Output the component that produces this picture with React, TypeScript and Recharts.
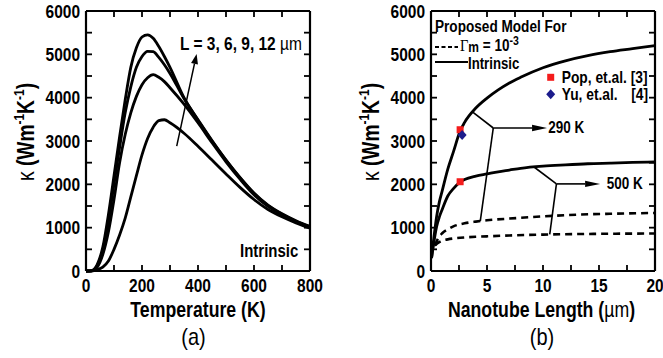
import React from 'react'
import { ComposedChart, Line, Scatter, XAxis, YAxis, ReferenceLine } from 'recharts'

// ---- panel (a): kappa vs temperature, intrinsic, L = 3, 6, 9, 12 um
const temps = [0, 20, 40, 60, 80, 100, 120, 140, 160, 180, 200, 220, 240, 260, 280, 300, 350, 400, 450, 500, 550, 600, 650, 700, 750, 800]
const kL12 = [0, 10, 150, 550, 1300, 2200, 3100, 3950, 4700, 5150, 5400, 5450, 5370, 5180, 4950, 4700, 4000, 3480, 3000, 2560, 2160, 1800, 1520, 1320, 1160, 1030]
const kL9 = [0, 5, 120, 480, 1150, 2000, 2850, 3650, 4250, 4700, 4950, 5070, 5060, 4930, 4760, 4560, 3980, 3490, 3010, 2560, 2150, 1790, 1510, 1310, 1150, 1020]
const kL6 = [0, 5, 90, 380, 900, 1650, 2500, 3150, 3650, 4030, 4300, 4460, 4530, 4470, 4370, 4230, 3850, 3420, 2960, 2520, 2120, 1760, 1490, 1295, 1140, 1000]
const kL3 = [0, 0, 30, 90, 230, 500, 830, 1220, 1710, 2200, 2680, 3060, 3320, 3470, 3490, 3420, 3180, 2880, 2560, 2240, 1930, 1650, 1420, 1250, 1110, 990]
const tempTicks = [0, 100, 200, 300, 400, 500, 600, 700, 800]
const tempLabels = [0, 200, 400, 600, 800]
const arrowA = [{ x: 324, y: 2880 }, { x: 395, y: 5010 }]

// ---- panel (b): kappa vs nanotube length
const lenIntr = [0.05, 0.25, 0.5, 0.75, 1, 1.5, 2, 2.6, 3, 4, 5, 6, 7, 8, 10, 12, 14, 16, 18, 20]
const k290Intr = [300, 750, 1250, 1600, 1850, 2350, 2750, 3230, 3430, 3760, 3990, 4180, 4340, 4470, 4690, 4850, 4970, 5060, 5130, 5200]
const k500Intr = [300, 650, 1020, 1250, 1420, 1730, 1900, 2050, 2110, 2190, 2240, 2290, 2330, 2370, 2420, 2450, 2475, 2490, 2505, 2515]
const lenGm = [0.35, 0.7, 1, 1.5, 2, 3, 4, 5, 7, 10, 13, 16, 20]
const k290Gm = [590, 780, 870, 960, 1030, 1100, 1140, 1170, 1210, 1260, 1300, 1320, 1340]
const k500Gm = [590, 660, 700, 730, 750, 775, 790, 800, 820, 840, 852, 860, 865]
const popPts = [{ x: 2.6, y: 3260 }, { x: 2.6, y: 2060 }]
const yuPts = [{ x: 2.78, y: 3140 }]
const lenTicks = [0, 2.5, 5, 7.5, 10, 12.5, 15, 17.5, 20]
const lenLabels = [0, 5, 10, 15, 20]
const ann290 = [
  [{ x: 3.7, y: 3670 }, { x: 5.56, y: 3300 }],
  [{ x: 5.56, y: 3300 }, { x: 10.36, y: 3300 }],
  [{ x: 5.56, y: 3300 }, { x: 4.4, y: 1150 }]
]
const ann500 = [
  [{ x: 9.2, y: 2400 }, { x: 11.2, y: 2010 }],
  [{ x: 11.2, y: 2010 }, { x: 15.1, y: 2010 }],
  [{ x: 11.2, y: 2010 }, { x: 10.6, y: 845 }]
]

const kTicks = [0, 500, 1000, 1500, 2000, 2500, 3000, 3500, 4000, 4500, 5000, 5500, 6000]
const kLabels = [0, 1000, 2000, 3000, 4000, 5000, 6000]

const toPts = (xs: number[], ys: number[]) => xs.map((x, i) => ({ x, y: ys[i] }))

const FONT = '"Liberation Sans", Arial, sans-serif'
const SY = 1.2 // the original figure is stretched vertically
const PLOT_TOP = 11
const PLOT_BOTTOM = 271
const TICK = 6

function SText({ x, y, size, anchor = 'start', weight = 'bold', children }: any) {
  return (
    <text
      transform={`translate(${x},${y}) scale(1,${SY})`}
      fontSize={size}
      fontFamily={FONT}
      fontWeight={weight}
      textAnchor={anchor}
      fill="#000"
    >
      {children}
    </text>
  )
}

const bottomTick = (labels: number[]) => (props: any) => {
  const { x, payload } = props
  if (!labels.includes(payload.value)) return <g />
  return <SText x={x} y={PLOT_BOTTOM + 21} size={15.5} anchor="middle">{payload.value}</SText>
}

const leftTick = (plotLeft: number) => (props: any) => {
  const { y, payload } = props
  if (!kLabels.includes(payload.value)) return <g />
  return <SText x={plotLeft - 6} y={y + 6.6} size={15.5} anchor="end">{payload.value}</SText>
}

// inward frame ticks, drawn as scatter marks sitting on the four edges of the plot
const stub = (dx: number, dy: number) => (p: any) => (
  <line x1={p.cx} y1={p.cy} x2={p.cx + dx} y2={p.cy + dy} stroke="#000" strokeWidth={1.8} />
)

function FrameTicks(xTicks: number[], yTicks: number[]) {
  const xs = xTicks.slice(1, -1)
  const ys = yTicks.slice(1, -1)
  const x0 = xTicks[0], x1 = xTicks[xTicks.length - 1]
  const y0 = yTicks[0], y1 = yTicks[yTicks.length - 1]
  return [
    <Scatter key="tb" data={xs.map((v) => ({ x: v, y: y0 }))} dataKey="y" shape={stub(0, -TICK)} isAnimationActive={false} />,
    <Scatter key="tt" data={xs.map((v) => ({ x: v, y: y1 }))} dataKey="y" shape={stub(0, TICK)} isAnimationActive={false} />,
    <Scatter key="tl" data={ys.map((v) => ({ x: x0, y: v }))} dataKey="y" shape={stub(TICK, 0)} isAnimationActive={false} />,
    <Scatter key="tr" data={ys.map((v) => ({ x: x1, y: v }))} dataKey="y" shape={stub(-TICK, 0)} isAnimationActive={false} />
  ]
}

const arrowShape = (head: boolean, hl: number, hw: number, sw: number) => (p: any) => {
  const x1 = Number(p.x1), y1 = Number(p.y1), x2 = Number(p.x2), y2 = Number(p.y2)
  const len = Math.hypot(x2 - x1, y2 - y1) || 1
  const ux = (x2 - x1) / len, uy = (y2 - y1) / len
  const bx = x2 - ux * hl, by = y2 - uy * hl
  return (
    <g>
      <line x1={x1} y1={y1} x2={head ? bx : x2} y2={head ? by : y2} stroke="#000" strokeWidth={sw} />
      {head && (
        <polygon
          points={`${x2},${y2} ${bx - uy * hw},${by + ux * hw} ${bx + uy * hw},${by - ux * hw}`}
          fill="#000"
        />
      )}
    </g>
  )
}

const squareShape = (p: any) => <rect x={p.cx - 3.5} y={p.cy - 3.5} width={7} height={7} fill="#f41c1c" />
const diamondShape = (p: any) => (
  <polygon points={`${p.cx},${p.cy - 5} ${p.cx + 4.5},${p.cy} ${p.cx},${p.cy + 5} ${p.cx - 4.5},${p.cy}`} fill="#1c1c8c" />
)

const axisLine = { stroke: '#000', strokeWidth: 2.2 }

function PanelA() {
  return (
    <ComposedChart width={330} height={358} margin={{ top: PLOT_TOP - 1, right: 19, bottom: 0, left: 0 }}>
      <XAxis xAxisId={0} dataKey="x" type="number" domain={[0, 800]} ticks={tempTicks} interval={0}
        height={358 - PLOT_BOTTOM} axisLine={axisLine} tickLine={false} tick={bottomTick(tempLabels)} />
      <XAxis xAxisId="top" orientation="top" dataKey="x" type="number" domain={[0, 800]} ticks={tempTicks}
        interval={0} height={1} axisLine={axisLine} tickLine={false} tick={false} />
      <YAxis yAxisId={0} type="number" domain={[0, 6000]} ticks={kTicks} interval={0} width={86}
        axisLine={axisLine} tickLine={false} tick={leftTick(86)} />
      <YAxis yAxisId="right" orientation="right" type="number" domain={[0, 6000]} ticks={kTicks} interval={0}
        width={1} axisLine={axisLine} tickLine={false} tick={false} />
      {[kL3, kL6, kL9, kL12].map((ks, i) => (
        <Line key={i} data={toPts(temps, ks)} dataKey="y" type="monotone" stroke="#000" strokeWidth={2.8}
          dot={false} activeDot={false} isAnimationActive={false} />
      ))}
      <ReferenceLine segment={arrowA} shape={arrowShape(true, 10, 3.5, 1.5)} />
      {FrameTicks(tempTicks, kTicks)}
    </ComposedChart>
  )
}

function PanelB() {
  return (
    <ComposedChart width={333} height={358} margin={{ top: PLOT_TOP - 1, right: 7, bottom: 0, left: 0 }}>
      <XAxis xAxisId={0} dataKey="x" type="number" domain={[0, 20]} ticks={lenTicks} interval={0}
        height={358 - PLOT_BOTTOM} axisLine={axisLine} tickLine={false} tick={bottomTick(lenLabels)} />
      <XAxis xAxisId="top" orientation="top" dataKey="x" type="number" domain={[0, 20]} ticks={lenTicks}
        interval={0} height={1} axisLine={axisLine} tickLine={false} tick={false} />
      <YAxis yAxisId={0} type="number" domain={[0, 6000]} ticks={kTicks} interval={0} width={101}
        axisLine={axisLine} tickLine={false} tick={leftTick(101)} />
      <YAxis yAxisId="right" orientation="right" type="number" domain={[0, 6000]} ticks={kTicks} interval={0}
        width={1} axisLine={axisLine} tickLine={false} tick={false} />
      <Line data={toPts(lenIntr, k290Intr)} dataKey="y" type="monotone" stroke="#000" strokeWidth={2.8}
        dot={false} activeDot={false} isAnimationActive={false} />
      <Line data={toPts(lenIntr, k500Intr)} dataKey="y" type="monotone" stroke="#000" strokeWidth={2.8}
        dot={false} activeDot={false} isAnimationActive={false} />
      <Line data={toPts(lenGm, k290Gm)} dataKey="y" type="monotone" stroke="#000" strokeWidth={2.6}
        strokeDasharray="7 5" dot={false} activeDot={false} isAnimationActive={false} />
      <Line data={toPts(lenGm, k500Gm)} dataKey="y" type="monotone" stroke="#000" strokeWidth={2.6}
        strokeDasharray="7 5" dot={false} activeDot={false} isAnimationActive={false} />
      {[...ann290, ...ann500].map((seg, i) => (
        <ReferenceLine key={i} segment={seg} shape={arrowShape(i % 3 === 1, 15, 3.2, 1.6)} />
      ))}
      <Scatter data={popPts} dataKey="y" shape={squareShape} isAnimationActive={false} />
      <Scatter data={yuPts} dataKey="y" shape={diamondShape} isAnimationActive={false} />
      {FrameTicks(lenTicks, kTicks)}
    </ComposedChart>
  )
}

function YLabel({ x }: { x: number }) {
  return (
    <text transform={`translate(${x},132) rotate(-90) scale(0.8,1)`} fontFamily={FONT} fontSize={24}
      fontWeight="bold" textAnchor="middle" fill="#000">
      <tspan fontWeight="normal">κ</tspan>
      <tspan> (Wm</tspan>
      <tspan dy={-10} fontSize={15}>-1</tspan>
      <tspan dy={10}>K</tspan>
      <tspan dy={-10} fontSize={15}>-1</tspan>
      <tspan dy={10}>)</tspan>
    </text>
  )
}

function Overlay() {
  return (
    <svg width={663} height={358} style={{ position: 'absolute', left: 0, top: 0, pointerEvents: 'none' }}>
      {/* panel (a) */}
      <YLabel x={34} />
      <SText x={198} y={316.7} size={17.7} anchor="middle">Temperature (K)</SText>
      <SText x={193.5} y={345} size={20} anchor="middle" weight="normal">(a)</SText>
      <SText x={180} y={49.5} size={15.5}>L = 3, 6, 9, 12 <tspan fontWeight="normal">µm</tspan></SText>
      <SText x={240} y={256.6} size={15}>Intrinsic</SText>

      {/* panel (b) */}
      <YLabel x={379} />
      <SText x={541.5} y={316.7} size={17.7} anchor="middle">Nanotube Length (<tspan fontWeight="normal">µm</tspan>)</SText>
      <SText x={542} y={345} size={20} anchor="middle" weight="normal">(b)</SText>
      <SText x={435} y={31.8} size={13.6}>Proposed Model For</SText>
      <line x1={435} x2={458} y1={47} y2={47} stroke="#000" strokeWidth={2} strokeDasharray="4 2.5" />
      <SText x={460} y={51.2} size={12}>
        <tspan fontFamily='"Liberation Serif", serif' fontWeight="normal" fontSize={14.5}>Γ</tspan>
        <tspan dy={0.6}>m</tspan>
        <tspan dy={-0.6} fontSize={13.5}> = 10</tspan>
        <tspan dy={-5} fontSize={10.5}>-3</tspan>
      </SText>
      <line x1={435} x2={468} y1={62} y2={62} stroke="#000" strokeWidth={1.8} />
      <SText x={468} y={68.5} size={13.2}>Intrinsic</SText>
      <rect x={547.2} y={73.8} width={7} height={7} fill="#f41c1c" />
      <SText x={561.7} y={83} size={13.8}>Pop, et.al. [3]</SText>
      <polygon points="550.7,89.3 555.2,94.3 550.7,99.3 546.2,94.3" fill="#1c1c8c" />
      <SText x={561.7} y={100} size={13.8}>Yu, et.al.</SText>
      <SText x={648} y={100} size={13.8} anchor="end">[4]</SText>
      <SText x={548.3} y={133} size={13.5}>290 K</SText>
      <SText x={606.7} y={189} size={13.5}>500 K</SText>
    </svg>
  )
}

export default function App() {
  return (
    <div style={{ position: 'absolute', left: 0, top: 0, width: 663, height: 358, background: '#fff' }}>
      <div style={{ position: 'absolute', left: 0, top: 0 }}>
        <PanelA />
      </div>
      <div style={{ position: 'absolute', left: 330, top: 0 }}>
        <PanelB />
      </div>
      <Overlay />
    </div>
  )
}
